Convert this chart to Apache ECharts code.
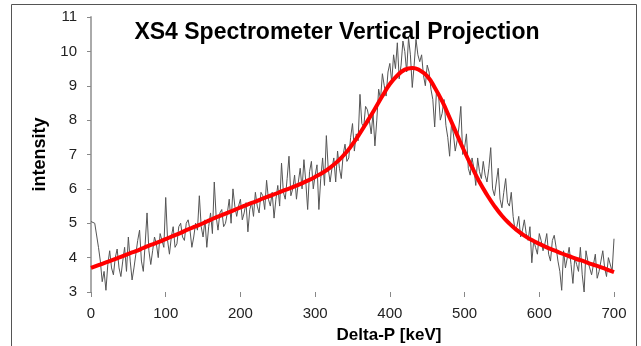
<!DOCTYPE html>
<html>
<head>
<meta charset="utf-8">
<script src="https://cdn.jsdelivr.net/npm/echarts@6/dist/echarts.min.js"></script>
<style>
  html, body { margin: 0; padding: 0; background: #fff; }
  #box1 { width: 641px; height: 346px; }
</style>
</head>
<body>
<div id="box1"></div>
<script>
let rawStep = 5;
let rawValues = [
    5.05, 5.0, 4.3, 3.3, 3.05, 4.2, 3.5, 4.25, 3.45, 4.3,
    4.6, 3.35, 4.1, 4.8, 3.6, 5.3, 3.8, 4.6, 4.0, 4.5,
    5.75, 4.1, 4.9, 4.4, 5.0, 4.5, 5.1, 4.3, 5.0, 5.8,
    4.6, 4.3, 5.3, 6.2, 4.8, 5.4, 5.0, 5.7, 6.0, 5.2,
    5.7, 5.3, 4.75, 5.6, 5.9, 5.3, 5.8, 6.25, 5.5, 5.15,
    6.1, 6.75, 5.7, 6.95, 6.0, 5.7, 6.6, 6.85, 5.4, 6.8,
    6.4, 5.4, 6.9, 7.55, 6.2, 6.9, 7.1, 6.3, 7.3, 6.9,
    7.9, 7.6, 8.75, 7.8, 8.3, 7.6, 7.25, 8.9, 9.35, 8.7,
    9.65, 9.9, 10.25, 9.6, 10.0, 10.4, 8.95, 10.35, 9.7, 9.3,
    9.6, 8.9, 7.8, 8.8, 8.2, 7.85, 6.95, 7.6, 7.4, 8.4,
    7.2, 6.6, 6.9, 6.1, 6.5, 6.8, 6.2, 7.2, 5.8, 6.6,
    5.45, 6.3, 5.5, 5.2, 4.9, 4.6, 5.1, 4.5, 3.85, 4.3,
    4.7, 4.2, 4.7, 3.9, 4.65, 3.9, 3.05, 3.7, 4.3, 3.25,
    3.8, 4.3, 3.0, 3.9, 3.5, 4.1, 3.6, 4.2, 3.45, 4.0,
    4.55
];
// in-between samples (2.5, 7.5 ... 697.5)
let rawMidValues = [
    5.1, 4.95, 3.9, 3.6, 3.8, 3.7, 4.0, 3.7, 3.9, 3.6,
    3.9, 3.7, 4.5, 3.9, 4.4, 4.2, 4.2, 4.4, 4.7, 4.3,
    4.5, 4.6, 4.3, 4.9, 4.6, 5.0, 4.8, 4.6, 4.8, 4.9,
    5.1, 4.9, 4.7, 5.2, 5.3, 4.9, 5.3, 5.0, 5.5, 5.5,
    5.1, 5.6, 5.4, 5.2, 5.5, 5.9, 5.4, 5.7, 5.9, 5.7,
    5.5, 5.9, 6.3, 5.8, 6.4, 6.2, 6.0, 6.2, 6.5, 6.0,
    6.7, 6.3, 6.1, 6.6, 6.6, 6.2, 6.6, 7.0, 6.8, 7.5,
    7.1, 7.4, 7.9, 8.4, 8.0, 8.2, 8.0, 8.6, 9.0, 9.4,
    9.1, 9.5, 9.2, 10.3, 9.4, 9.9, 9.6, 9.9, 9.9, 9.0,
    9.4, 8.6, 8.9, 8.0, 8.6, 7.5, 7.9, 7.1, 7.8, 7.0,
    7.6, 6.4, 6.6, 6.9, 6.3, 6.4, 6.6, 6.0, 6.2, 5.7,
    5.9, 5.6, 5.9, 4.8, 5.2, 4.8, 4.7, 4.9, 4.5, 4.1,
    4.5, 4.4, 4.1, 4.5, 4.3, 3.6, 4.2, 4.0, 3.8, 4.0,
    3.6, 3.5, 4.2, 3.7, 3.8, 3.4, 3.9, 3.7, 4.0, 3.6
];

// fitted curve, one point every 10 keV
let fitStep = 10;
let fitValues = [
    3.70, 3.78, 3.86, 3.94, 4.02, 4.11, 4.19, 4.28, 4.37, 4.45,
    4.54, 4.63, 4.72, 4.82, 4.91, 5.00, 5.10, 5.19, 5.28, 5.37,
    5.46, 5.55, 5.63, 5.72, 5.80, 5.88, 5.97, 6.05, 6.14, 6.24,
    6.35, 6.47, 6.62, 6.80, 7.02, 7.30, 7.62, 7.97, 8.33, 8.70,
    9.05, 9.30, 9.47, 9.52, 9.45, 9.28, 8.95, 8.55, 8.07, 7.57,
    7.08, 6.63, 6.20, 5.83, 5.50, 5.22, 4.99, 4.80, 4.64, 4.51,
    4.40, 4.30, 4.21, 4.12, 4.04, 3.96, 3.89, 3.81, 3.74, 3.66,
    3.58
];

let xTicks = [0, 100, 200, 300, 400, 500, 600, 700];
let yTicks = [3, 4, 5, 6, 7, 8, 9, 10, 11];

// merge the two sample sets in x order
let rawData = [];
rawValues.forEach((v, i) => {
    rawData.push([i * rawStep, v]);
    if (i < rawMidValues.length) {
        rawData.push([i * rawStep + rawStep / 2, rawMidValues[i]]);
    }
});
let fitData = fitValues.map((v, i) => [i * fitStep, v]);

let box1 = document.querySelector('#box1');
let myChart1 = echarts.init(box1);
let font = 'Liberation Sans, Arial, sans-serif';
let option1 = {
    animation: false,
    title: [
        {
            text: 'XS4 Spectrometer Vertical Projection',
            left: 332,
            top: 16,
            textAlign: 'center',
            textStyle: { fontFamily: font, fontSize: 23, fontWeight: 'bold', color: '#000' }
        },
        {
            text: 'Delta-P [keV]',
            left: 384,
            top: 322,
            textAlign: 'center',
            textStyle: { fontFamily: font, fontSize: 17, fontWeight: 'bold', color: '#000' }
        }
    ],
    graphic: [
        {
            type: 'rect',
            shape: { x: 11.5, y: 4.5, width: 625, height: 360 },
            style: { fill: 'none', stroke: '#555', lineWidth: 1 },
            silent: true
        }
    ],
    grid: {
        left: 91,
        right: 27,
        top: 17,
        bottom: 54
    },
    xAxis: {
        type: 'value',
        min: xTicks[0],
        max: xTicks[xTicks.length - 1],
        interval: 100,
        axisLine: { show: false },
        axisTick: { show: true, length: 5, lineStyle: { color: '#888' } },
        splitLine: { show: false },
        axisLabel: { margin: 14, fontFamily: font, fontSize: 15, color: '#222' }
    },
    yAxis: {
        type: 'value',
        min: yTicks[0],
        max: yTicks[yTicks.length - 1],
        interval: 1,
        name: 'intensity',
        nameLocation: 'middle',
        nameGap: 42,
        nameTextStyle: { fontFamily: font, fontSize: 18, fontWeight: 'bold', color: '#000' },
        axisLine: { show: true, lineStyle: { color: '#aaa', width: 2 } },
        axisTick: { show: true, length: 4, lineStyle: { color: '#888' } },
        splitLine: { show: false },
        axisLabel: { margin: 14, fontFamily: font, fontSize: 15, color: '#222' }
    },
    series: [
        {
            name: 'data',
            type: 'line',
            data: rawData,
            showSymbol: false,
            lineStyle: { color: '#555', width: 1 },
            z: 2
        },
        {
            name: 'fit',
            type: 'line',
            data: fitData,
            smooth: true,
            showSymbol: false,
            lineStyle: { color: '#ff0000', width: 4 },
            z: 3
        }
    ]
};
myChart1.setOption(option1);
</script>
</body>
</html>
